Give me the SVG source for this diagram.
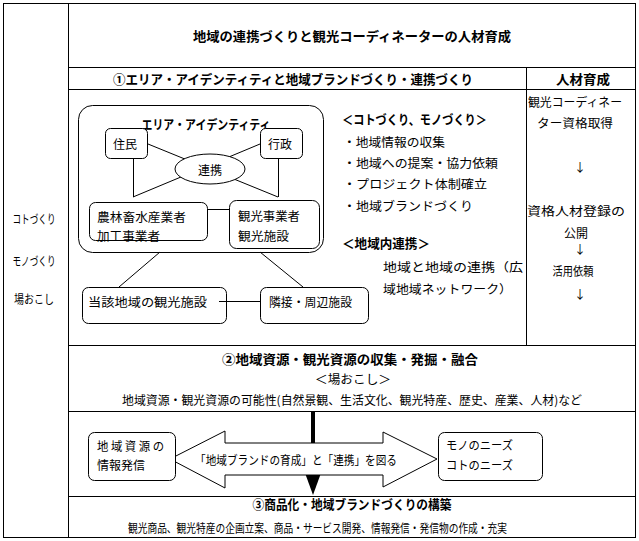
<svg xmlns="http://www.w3.org/2000/svg" width="639" height="541" viewBox="0 0 639 541">
<style>
text{font-family:"Noto Sans CJK JP","Noto Sans CJK SC",sans-serif;font-size:12px;fill:#000;dominant-baseline:central}
.b{font-weight:bold;font-size:13px}
.m{text-anchor:middle}
.ln{stroke:#000;stroke-width:1;fill:none}
.box{stroke:#000;stroke-width:1;fill:#fff}
</style>
<rect width="639" height="541" fill="#fff"/>
<g id="frame" class="ln">
<rect x="3.5" y="3.5" width="632" height="534"/>
<line x1="68.5" y1="3.5" x2="68.5" y2="537.5"/>
<line x1="68.5" y1="67.5" x2="635.5" y2="67.5"/>
<line x1="68.5" y1="89.5" x2="635.5" y2="89.5"/>
<line x1="68.5" y1="345.5" x2="635.5" y2="345.5"/>
<line x1="68.5" y1="411.5" x2="635.5" y2="411.5"/>
<line x1="68.5" y1="496.5" x2="635.5" y2="496.5"/>
<line x1="526.5" y1="67.5" x2="526.5" y2="345.5"/>
</g>
<g id="title">
<text class="b m" x="352" y="35" textLength="318" lengthAdjust="spacingAndGlyphs">地域の連携づくりと観光コーディネーターの人材育成</text>
</g>
<g id="left-col">
<text class="m" x="34" y="218" textLength="43" lengthAdjust="spacingAndGlyphs">コトづくり</text>
<text class="m" x="34" y="260" textLength="43" lengthAdjust="spacingAndGlyphs">モノづくり</text>
<text class="m" x="34" y="298" textLength="40" lengthAdjust="spacingAndGlyphs">場おこし</text>
</g>
<g id="sec1-header">
<text class="b m" x="293" y="78" textLength="360" lengthAdjust="spacingAndGlyphs">①エリア・アイデンティティと地域ブランドづくり・連携づくり</text>
<text class="b m" x="583" y="78" textLength="54" lengthAdjust="spacingAndGlyphs">人材育成</text>
</g>
<g id="connectors" class="ln">
<line x1="148" y1="144" x2="278" y2="197"/>
<line x1="133" y1="197" x2="260" y2="144"/>
<line x1="133.5" y1="158" x2="133.5" y2="197"/>
<line x1="278.5" y1="158" x2="278.5" y2="197"/>
<line x1="207" y1="209.5" x2="229" y2="209.5"/>
<line x1="160" y1="252" x2="119" y2="287"/>
<line x1="260" y1="252" x2="303" y2="287"/>
</g>
<g id="area-identity">
<rect class="ln" x="78.5" y="105.5" width="245" height="147" rx="14"/>
<text class="b m" x="206" y="123" textLength="129" lengthAdjust="spacingAndGlyphs">エリア・アイデンティティ</text>
</g>
<g id="jumin">
<rect class="box" x="105.5" y="128.5" width="42" height="30" rx="5"/>
<text class="m" x="125" y="143">住民</text>
</g>
<g id="gyosei">
<rect class="box" x="260.5" y="128.5" width="42" height="30" rx="5"/>
<text class="m" x="280" y="143">行政</text>
</g>
<g id="renkei">
<ellipse class="box" cx="210" cy="169" rx="35" ry="15"/>
<text class="m" x="210" y="169">連携</text>
</g>
<g id="norin">
<rect class="box" x="89.5" y="202.5" width="118" height="38" rx="6"/>
<text x="97" y="216" textLength="89" lengthAdjust="spacingAndGlyphs">農林畜水産業者</text>
<text x="97" y="235" textLength="63" lengthAdjust="spacingAndGlyphs">加工事業者</text>
</g>
<g id="kanko-jigyosha">
<rect class="box" x="229.5" y="200.5" width="90" height="48" rx="7"/>
<text x="238" y="215" textLength="62" lengthAdjust="spacingAndGlyphs">観光事業者</text>
<text x="238" y="235" textLength="51" lengthAdjust="spacingAndGlyphs">観光施設</text>
</g>
<g id="sisetsu1">
<rect class="box" x="82.5" y="287.5" width="144" height="36" rx="6"/>
<text x="88" y="301" textLength="119" lengthAdjust="spacingAndGlyphs">当該地域の観光施設</text>
</g>
<g id="sisetsu2">
<rect class="box" x="260.5" y="287.5" width="108" height="36" rx="6"/>
<text x="269" y="301" textLength="83" lengthAdjust="spacingAndGlyphs">隣接・周辺施設</text>
</g>
<line class="ln" x1="219" y1="301.5" x2="260" y2="301.5"/>
<g id="koto-mono-list">
<text class="b" x="342" y="118" textLength="145" lengthAdjust="spacingAndGlyphs">＜コトづくり、モノづくり＞</text>
<text x="343" y="141" textLength="102" lengthAdjust="spacingAndGlyphs">・地域情報の収集</text>
<text x="343" y="162" textLength="155" lengthAdjust="spacingAndGlyphs">・地域への提案・協力依頼</text>
<text x="343" y="183" textLength="144" lengthAdjust="spacingAndGlyphs">・プロジェクト体制確立</text>
<text x="343" y="205" textLength="130" lengthAdjust="spacingAndGlyphs">・地域ブランドづくり</text>
<text class="b" x="342" y="242" textLength="88" lengthAdjust="spacingAndGlyphs">＜地域内連携＞</text>
<text x="383" y="266" textLength="140" lengthAdjust="spacingAndGlyphs">地域と地域の連携（広</text>
<text x="383" y="288" textLength="129" lengthAdjust="spacingAndGlyphs">域地域ネットワーク）</text>
</g>
<g id="jinzai">
<text class="m" x="575" y="101" textLength="94" lengthAdjust="spacingAndGlyphs">観光コーディネー</text>
<text class="m" x="575" y="122" textLength="76" lengthAdjust="spacingAndGlyphs">ター資格取得</text>
<text class="m" x="580" y="166">↓</text>
<text class="m" x="576" y="210" textLength="98" lengthAdjust="spacingAndGlyphs">資格人材登録の</text>
<text class="m" x="576" y="232">公開</text>
<text class="m" x="580" y="248">↓</text>
<text class="m" x="573" y="270" textLength="41" lengthAdjust="spacingAndGlyphs">活用依頼</text>
<text class="m" x="580" y="293">↓</text>
</g>
<g id="sec2">
<text class="b m" x="350" y="358" textLength="256" lengthAdjust="spacingAndGlyphs">②地域資源・観光資源の収集・発掘・融合</text>
<text class="m" x="353" y="378" font-size="13" textLength="76" lengthAdjust="spacingAndGlyphs">＜場おこし＞</text>
<text class="m" x="352" y="399" textLength="460" lengthAdjust="spacingAndGlyphs">地域資源・観光資源の可能性(自然景観、生活文化、観光特産、歴史、産業、人材)など</text>
</g>
<g id="down-arrow">
<rect x="311" y="411" width="4" height="64" fill="#000"/>
<polygon points="305,473 321,473 313,495" fill="#000"/>
</g>
<g id="double-arrow">
<polygon class="box" points="170,459 225,431 225,443 383,443 383,432 437,459 383,487 383,475 225,475 225,488"/>
<text x="195" y="459" textLength="202" lengthAdjust="spacingAndGlyphs">「地域ブランドの育成」と「連携」を図る</text>
</g>
<g id="joho-hasshin">
<rect class="box" x="88.5" y="432.5" width="87" height="48" rx="6"/>
<text x="97" y="445" textLength="67" lengthAdjust="spacingAndGlyphs">地 域 資 源 の</text>
<text x="97" y="464" textLength="48" lengthAdjust="spacingAndGlyphs">情報発信</text>
</g>
<g id="needs">
<rect class="box" x="438.5" y="432.5" width="104" height="48" rx="6"/>
<text x="446" y="444" textLength="67" lengthAdjust="spacingAndGlyphs">モノのニーズ</text>
<text x="446" y="464" textLength="67" lengthAdjust="spacingAndGlyphs">コトのニーズ</text>
</g>
<g id="sec3">
<text class="b m" x="352" y="503" textLength="199" lengthAdjust="spacingAndGlyphs">③商品化・地域ブランドづくりの構築</text>
<text x="128" y="527" textLength="379" lengthAdjust="spacingAndGlyphs">観光商品、観光特産の企画立案、商品・サービス開発、情報発信・発信物の作成・充実</text>
</g>
</svg>
